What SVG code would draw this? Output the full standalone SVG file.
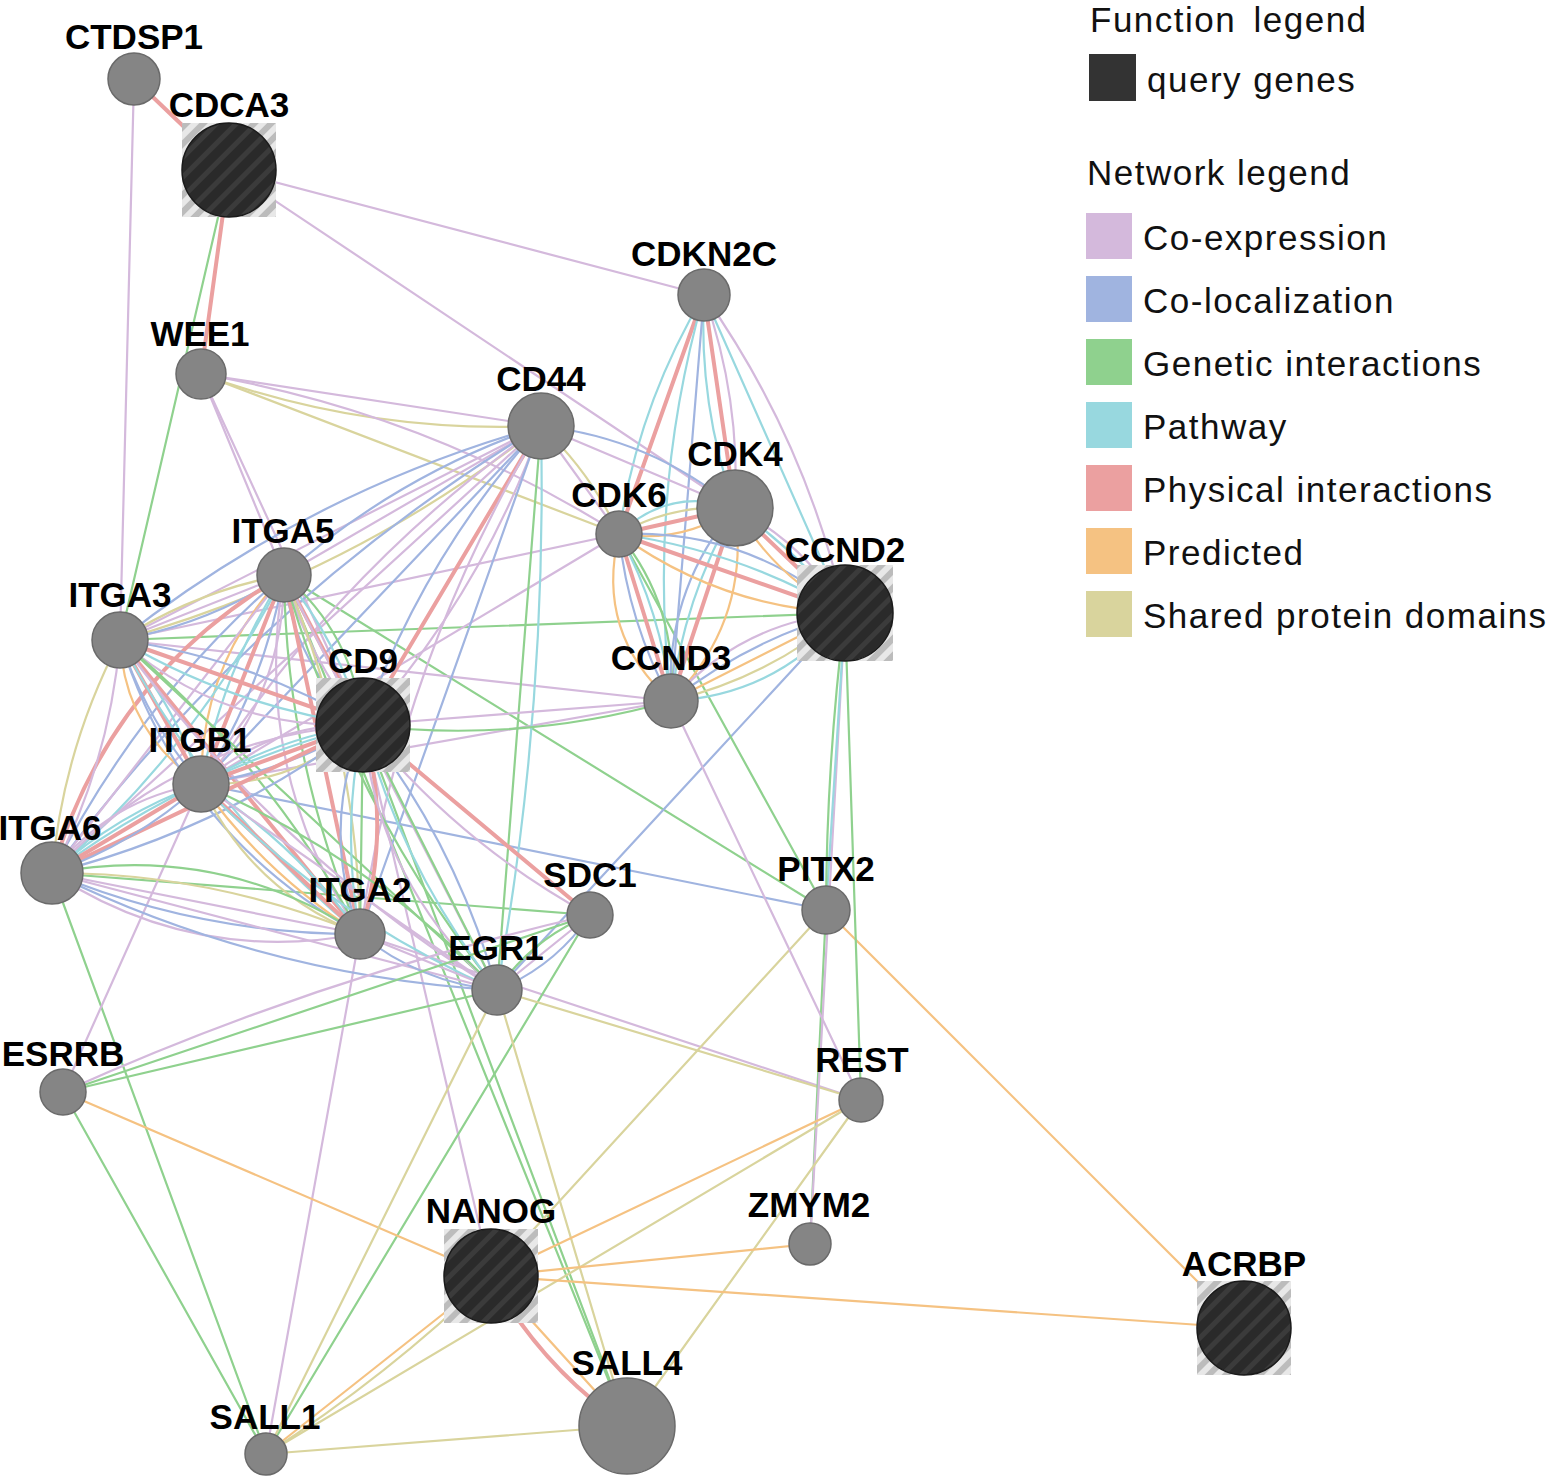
<svg xmlns="http://www.w3.org/2000/svg" width="1558" height="1478" viewBox="0 0 1558 1478">
<defs>
<pattern id="dk" width="14" height="14" patternUnits="userSpaceOnUse" patternTransform="rotate(45)"><rect width="14" height="14" fill="#2a2a2a"/><rect width="5" height="14" fill="#3b3b3b"/></pattern>
<pattern id="lg" width="12" height="12" patternUnits="userSpaceOnUse" patternTransform="rotate(45)"><rect width="12" height="12" fill="#e8e8e8"/><rect width="6" height="12" fill="#bcbcbc"/></pattern>
<style>
.e{fill:none;stroke-width:2.2;stroke-linecap:round}
.P{stroke:#d4b9dc}.L{stroke:#a0b4e0}.G{stroke:#8fd18e}.W{stroke:#98d8df}.X{stroke:#eba0a0;stroke-width:4}.R{stroke:#f5c282}.S{stroke:#d9d49d}
.n{fill:#858585;stroke:#6a6a6a;stroke-width:1.5}
.q{fill:url(#dk);stroke:#1a1a1a;stroke-width:1.5}
.qb{fill:url(#lg)}
.lb{font-family:"Liberation Sans",Arial,sans-serif;font-weight:bold;font-size:35px;text-anchor:middle;fill:#000}
.lt{font-family:"Liberation Sans",Arial,sans-serif;font-size:35px;fill:#111;letter-spacing:1.5px}
</style>
</defs>
<rect width="1558" height="1478" fill="#fff"/>
<g id="edges">
<path class="e X" stroke-width="7" d="M134 79 L229 170"/>
<path class="e P" d="M134 79 L120 640"/>
<path class="e G" d="M229 170 L120 640"/>
<path class="e X" d="M229 170 L201 374"/>
<path class="e P" d="M229 170 L704 295"/>
<path class="e P" d="M229 170 L735 508"/>
<path class="e P" d="M201 374 L284 575"/>
<path class="e P" d="M201 374 L363 725"/>
<path class="e G" d="M284 575 L826 910"/>
<path class="e G" d="M284 575 L627 1426"/>
<path class="e G" d="M120 640 L845 613"/>
<path class="e P" d="M120 640 L671 701"/>
<path class="e P" d="M120 640 L619 534"/>
<path class="e P" d="M363 725 L491 1276"/>
<path class="e G" d="M363 725 L627 1426"/>
<path class="e L" d="M201 784 L826 910"/>
<path class="e P" d="M201 784 L671 701"/>
<path class="e P" d="M201 784 L619 534"/>
<path class="e G" d="M52 873 L590 915"/>
<path class="e G" d="M52 873 L266 1454"/>
<path class="e P" d="M360 934 L266 1454"/>
<path class="e P" d="M360 934 L861 1100"/>
<path class="e L" d="M497 990 L845 613"/>
<path class="e G" d="M590 915 L266 1454"/>
<path class="e G" d="M63 1092 L497 990"/>
<path class="e G" d="M63 1092 L266 1454"/>
<path class="e R" stroke-width="3" d="M63 1092 L491 1276"/>
<path class="e P" d="M63 1092 L201 784"/>
<path class="e S" d="M497 990 L861 1100"/>
<path class="e S" d="M497 990 L266 1454"/>
<path class="e S" d="M497 990 L627 1426"/>
<path class="e R" d="M826 910 L1244 1328"/>
<path class="e S" d="M826 910 L491 1276"/>
<path class="e G" d="M826 910 L810 1244"/>
<path class="e P" d="M845 613 L810 1244"/>
<path class="e G" d="M845 613 L861 1100"/>
<path class="e P" d="M671 701 L861 1100"/>
<path class="e G" d="M619 534 L826 910"/>
<path class="e R" stroke-width="3" d="M861 1100 L491 1276"/>
<path class="e S" d="M861 1100 L627 1426"/>
<path class="e S" d="M861 1100 L266 1454"/>
<path class="e R" stroke-width="3" d="M810 1244 L491 1276"/>
<path class="e R" stroke-width="3" d="M491 1276 L1244 1328"/>
<path class="e S" d="M266 1454 L627 1426"/>
<path class="e X" stroke-width="5" d="M704 295 L619 534"/>
<path class="e W" d="M704 295 Q637.6 406 619 534"/>
<path class="e X" stroke-width="3.5" d="M704 295 L735 508"/>
<path class="e W" d="M704 295 Q698.2 404.6 735 508"/>
<path class="e P" d="M704 295 Q740.8 398.4 735 508"/>
<path class="e W" d="M704 295 L845 613"/>
<path class="e P" d="M704 295 Q806.3 439.9 845 613"/>
<path class="e L" d="M704 295 L671 701"/>
<path class="e W" d="M704 295 Q646.9 494.7 671 701"/>
<path class="e P" d="M201 374 L541 426"/>
<path class="e S" d="M201 374 Q365.8 434 541 426"/>
<path class="e S" d="M201 374 L619 534"/>
<path class="e P" d="M201 374 Q426 412.2 619 534"/>
<path class="e P" d="M541 426 L120 640"/>
<path class="e L" d="M541 426 Q309.1 490.9 120 640"/>
<path class="e S" d="M541 426 Q351.9 575.1 120 640"/>
<path class="e P" d="M541 426 L284 575"/>
<path class="e L" d="M541 426 Q397.6 474.8 284 575"/>
<path class="e L" d="M541 426 L201 784"/>
<path class="e P" d="M541 426 Q335.2 571 201 784"/>
<path class="e P" d="M541 426 L52 873"/>
<path class="e L" d="M541 426 Q251.8 600.6 52 873"/>
<path class="e X" d="M541 426 L363 725"/>
<path class="e L" d="M541 426 Q422.1 557.7 363 725"/>
<path class="e P" d="M541 426 Q481.9 593.3 363 725"/>
<path class="e L" d="M541 426 L360 934"/>
<path class="e P" d="M541 426 Q399.7 661.9 360 934"/>
<path class="e G" d="M541 426 L497 990"/>
<path class="e W" d="M541 426 Q547.2 710.2 497 990"/>
<path class="e P" d="M541 426 L735 508"/>
<path class="e L" d="M541 426 Q650.3 437.9 735 508"/>
<path class="e P" d="M284 575 L120 640"/>
<path class="e S" d="M284 575 Q195.5 591.1 120 640"/>
<path class="e L" d="M284 575 Q208.5 623.9 120 640"/>
<path class="e X" d="M284 575 L201 784"/>
<path class="e W" d="M284 575 Q221.6 671.2 201 784"/>
<path class="e L" d="M284 575 Q263.4 687.8 201 784"/>
<path class="e R" stroke-width="3" d="M284 575 Q200.7 662.9 201 784"/>
<path class="e P" d="M284 575 Q284.3 696.1 201 784"/>
<path class="e X" d="M284 575 L363 725"/>
<path class="e P" d="M284 575 Q308.5 657.9 363 725"/>
<path class="e W" d="M284 575 Q338.5 642.1 363 725"/>
<path class="e L" d="M284 575 Q293.5 665.8 363 725"/>
<path class="e G" d="M284 575 Q353.5 634.2 363 725"/>
<path class="e P" d="M284 575 L52 873"/>
<path class="e L" d="M284 575 Q138.2 700.8 52 873"/>
<path class="e W" d="M284 575 Q197.8 747.2 52 873"/>
<path class="e X" stroke-width="3.5" d="M284 575 Q108.4 677.6 52 873"/>
<path class="e X" stroke-width="3.5" d="M284 575 L360 934"/>
<path class="e G" d="M284 575 Q286.1 762.1 360 934"/>
<path class="e S" d="M284 575 Q357.9 746.9 360 934"/>
<path class="e P" d="M284 575 Q250.2 769.7 360 934"/>
<path class="e P" d="M284 575 L497 990"/>
<path class="e G" d="M284 575 Q349 803.8 497 990"/>
<path class="e X" stroke-width="5" d="M120 640 L363 725"/>
<path class="e W" d="M120 640 Q233 706.8 363 725"/>
<path class="e L" d="M120 640 Q250 658.2 363 725"/>
<path class="e P" d="M120 640 Q224.5 731.1 363 725"/>
<path class="e X" d="M120 640 L201 784"/>
<path class="e R" stroke-width="5" d="M120 640 Q124.5 732.3 201 784"/>
<path class="e W" d="M120 640 Q174.9 703.9 201 784"/>
<path class="e L" d="M120 640 Q146.1 720.1 201 784"/>
<path class="e S" d="M120 640 Q62.7 749.7 52 873"/>
<path class="e P" d="M120 640 Q109.3 763.3 52 873"/>
<path class="e X" stroke-width="3.5" d="M120 640 L360 934"/>
<path class="e W" d="M120 640 Q210.6 811 360 934"/>
<path class="e G" d="M120 640 Q269.4 763 360 934"/>
<path class="e L" d="M120 640 Q181.2 835 360 934"/>
<path class="e G" d="M120 640 L497 990"/>
<path class="e P" d="M120 640 Q273.5 852.7 497 990"/>
<path class="e X" d="M363 725 L201 784"/>
<path class="e W" d="M363 725 Q276.1 738.3 201 784"/>
<path class="e L" d="M363 725 Q287.9 770.7 201 784"/>
<path class="e P" d="M363 725 Q270.2 722.1 201 784"/>
<path class="e S" d="M363 725 Q293.8 786.9 201 784"/>
<path class="e X" d="M363 725 L52 873"/>
<path class="e W" d="M363 725 Q192.7 767.9 52 873"/>
<path class="e L" d="M363 725 Q222.3 830.1 52 873"/>
<path class="e P" d="M363 725 Q177.9 736.8 52 873"/>
<path class="e X" d="M363 725 Q392.9 830 360 934"/>
<path class="e G" d="M363 725 L360 934"/>
<path class="e W" d="M363 725 Q340.6 829.2 360 934"/>
<path class="e L" d="M363 725 Q319.7 828.9 360 934"/>
<path class="e G" d="M363 725 L497 990"/>
<path class="e W" d="M363 725 Q403.5 870.9 497 990"/>
<path class="e L" d="M363 725 Q456.5 844.1 497 990"/>
<path class="e P" d="M363 725 Q377 884.3 497 990"/>
<path class="e X" d="M363 725 L590 915"/>
<path class="e P" d="M363 725 Q457.5 842.7 590 915"/>
<path class="e P" d="M363 725 L671 701"/>
<path class="e G" d="M363 725 Q519.4 743.8 671 701"/>
<path class="e X" d="M201 784 L52 873"/>
<path class="e W" d="M201 784 Q117.6 813.6 52 873"/>
<path class="e L" d="M201 784 Q135.4 843.4 52 873"/>
<path class="e P" d="M201 784 Q108.7 798.7 52 873"/>
<path class="e X" stroke-width="5" d="M201 784 L360 934"/>
<path class="e R" stroke-width="3" d="M201 784 Q265.5 874.9 360 934"/>
<path class="e W" d="M201 784 Q295.5 843.1 360 934"/>
<path class="e S" d="M201 784 Q250.5 890.8 360 934"/>
<path class="e P" d="M201 784 L497 990"/>
<path class="e W" d="M201 784 Q328.4 916.6 497 990"/>
<path class="e G" d="M201 784 Q369.6 857.4 497 990"/>
<path class="e P" d="M52 873 L360 934"/>
<path class="e L" d="M52 873 Q199.9 934.3 360 934"/>
<path class="e S" d="M52 873 Q212.1 872.7 360 934"/>
<path class="e G" d="M52 873 Q218.2 841.9 360 934"/>
<path class="e P" d="M52 873 Q193.8 965.1 360 934"/>
<path class="e P" d="M52 873 L497 990"/>
<path class="e L" d="M52 873 Q262.8 976 497 990"/>
<path class="e P" d="M360 934 L497 990"/>
<path class="e L" d="M360 934 Q420.1 982.6 497 990"/>
<path class="e P" d="M590 915 L497 990"/>
<path class="e G" d="M590 915 Q532.2 938.5 497 990"/>
<path class="e L" d="M590 915 Q554.8 966.5 497 990"/>
<path class="e G" d="M63 1092 L590 915"/>
<path class="e P" d="M63 1092 Q317.7 977.2 590 915"/>
<path class="e W" d="M826 910 L845 613"/>
<path class="e G" d="M826 910 Q826.6 762.1 845 613"/>
<path class="e R" d="M491 1276 L627 1426"/>
<path class="e X" stroke-width="5" d="M491 1276 Q541 1367.3 627 1426"/>
<path class="e R" stroke-width="3" d="M491 1276 L266 1454"/>
<path class="e S" d="M491 1276 Q387.4 1376.3 266 1454"/>
<path class="e X" stroke-width="5" d="M671 701 L619 534"/>
<path class="e R" d="M671 701 Q594.9 633.1 619 534"/>
<path class="e W" d="M671 701 Q661.7 612.3 619 534"/>
<path class="e G" d="M671 701 Q678.4 607.1 619 534"/>
<path class="e L" d="M671 701 Q628.3 622.7 619 534"/>
<path class="e X" stroke-width="5" d="M671 701 L735 508"/>
<path class="e R" d="M671 701 Q751.3 620.5 735 508"/>
<path class="e W" d="M671 701 Q683.7 598.1 735 508"/>
<path class="e L" d="M671 701 Q664.4 591.7 735 508"/>
<path class="e R" stroke-width="3" d="M671 701 L845 613"/>
<path class="e S" d="M671 701 Q768.6 677.9 845 613"/>
<path class="e L" d="M671 701 Q749.2 639.6 845 613"/>
<path class="e W" d="M671 701 Q777.4 695.3 845 613"/>
<path class="e P" d="M671 701 Q740.4 622.2 845 613"/>
<path class="e X" stroke-width="3.5" d="M619 534 L735 508"/>
<path class="e W" d="M619 534 Q669.2 486.2 735 508"/>
<path class="e S" d="M619 534 Q673.1 503.6 735 508"/>
<path class="e R" d="M619 534 Q682.2 544.2 735 508"/>
<path class="e X" d="M619 534 L845 613"/>
<path class="e R" d="M619 534 Q720.1 607.4 845 613"/>
<path class="e W" d="M619 534 Q739.9 550.9 845 613"/>
<path class="e L" d="M619 534 Q747.8 528.3 845 613"/>
<path class="e X" stroke-width="5" d="M735 508 L845 613"/>
<path class="e P" d="M735 508 Q805.8 544 845 613"/>
<path class="e W" d="M735 508 Q798.4 551.7 845 613"/>
<path class="e R" d="M735 508 Q774.3 577 845 613"/>
<path class="e P" d="M619 534 L541 426"/>
<path class="e S" d="M619 534 Q590.8 472.2 541 426"/>
</g>
<g id="node-CTDSP1"><circle class="n" cx="134" cy="79" r="26"/><text class="lb" x="134" y="49">CTDSP1</text></g>
<g id="node-CDCA3"><rect class="qb" x="182" y="123" width="94" height="94"/><circle class="q" cx="229" cy="170" r="47"/><text class="lb" x="229" y="117">CDCA3</text></g>
<g id="node-CDKN2C"><circle class="n" cx="704" cy="295" r="26"/><text class="lb" x="704" y="266">CDKN2C</text></g>
<g id="node-WEE1"><circle class="n" cx="201" cy="374" r="25"/><text class="lb" x="200" y="346">WEE1</text></g>
<g id="node-CD44"><circle class="n" cx="541" cy="426" r="33"/><text class="lb" x="541" y="391">CD44</text></g>
<g id="node-CDK4"><circle class="n" cx="735" cy="508" r="38"/><text class="lb" x="735" y="466">CDK4</text></g>
<g id="node-CDK6"><circle class="n" cx="619" cy="534" r="23"/><text class="lb" x="619" y="507">CDK6</text></g>
<g id="node-CCND2"><rect class="qb" x="797" y="565" width="96" height="96"/><circle class="q" cx="845" cy="613" r="48"/><text class="lb" x="845" y="562">CCND2</text></g>
<g id="node-ITGA5"><circle class="n" cx="284" cy="575" r="27"/><text class="lb" x="283" y="543">ITGA5</text></g>
<g id="node-ITGA3"><circle class="n" cx="120" cy="640" r="28"/><text class="lb" x="120" y="607">ITGA3</text></g>
<g id="node-CD9"><rect class="qb" x="316" y="678" width="94" height="94"/><circle class="q" cx="363" cy="725" r="47"/><text class="lb" x="363" y="673">CD9</text></g>
<g id="node-CCND3"><circle class="n" cx="671" cy="701" r="27"/><text class="lb" x="671" y="670">CCND3</text></g>
<g id="node-ITGB1"><circle class="n" cx="201" cy="784" r="28"/><text class="lb" x="200" y="752">ITGB1</text></g>
<g id="node-ITGA6"><circle class="n" cx="52" cy="873" r="31"/><text class="lb" x="50" y="840">ITGA6</text></g>
<g id="node-ITGA2"><circle class="n" cx="360" cy="934" r="25"/><text class="lb" x="360" y="902">ITGA2</text></g>
<g id="node-SDC1"><circle class="n" cx="590" cy="915" r="23"/><text class="lb" x="590" y="887">SDC1</text></g>
<g id="node-PITX2"><circle class="n" cx="826" cy="910" r="24"/><text class="lb" x="826" y="881">PITX2</text></g>
<g id="node-EGR1"><circle class="n" cx="497" cy="990" r="25"/><text class="lb" x="496" y="960">EGR1</text></g>
<g id="node-ESRRB"><circle class="n" cx="63" cy="1092" r="23"/><text class="lb" x="63" y="1066">ESRRB</text></g>
<g id="node-REST"><circle class="n" cx="861" cy="1100" r="22"/><text class="lb" x="862" y="1072">REST</text></g>
<g id="node-ZMYM2"><circle class="n" cx="810" cy="1244" r="21"/><text class="lb" x="809" y="1217">ZMYM2</text></g>
<g id="node-NANOG"><rect class="qb" x="444" y="1229" width="94" height="94"/><circle class="q" cx="491" cy="1276" r="47"/><text class="lb" x="491" y="1223">NANOG</text></g>
<g id="node-ACRBP"><rect class="qb" x="1197" y="1281" width="94" height="94"/><circle class="q" cx="1244" cy="1328" r="47"/><text class="lb" x="1244" y="1276">ACRBP</text></g>
<g id="node-SALL4"><circle class="n" cx="627" cy="1426" r="48"/><text class="lb" x="627" y="1375">SALL4</text></g>
<g id="node-SALL1"><circle class="n" cx="266" cy="1454" r="21"/><text class="lb" x="265" y="1429">SALL1</text></g>
<g id="legend">
<text class="lt" x="1090" y="32" word-spacing="6">Function legend</text>
<rect x="1089" y="54" width="47" height="47" fill="#333"/>
<text class="lt" x="1147" y="92">query genes</text>
<text class="lt" x="1087" y="185">Network legend</text>
<rect x="1086" y="213" width="46" height="46" fill="#d4b9dc"/><text class="lt" x="1143" y="250">Co-expression</text>
<rect x="1086" y="276" width="46" height="46" fill="#a0b4e0"/><text class="lt" x="1143" y="313">Co-localization</text>
<rect x="1086" y="339" width="46" height="46" fill="#8fd18e"/><text class="lt" x="1143" y="376">Genetic interactions</text>
<rect x="1086" y="402" width="46" height="46" fill="#98d8df"/><text class="lt" x="1143" y="439">Pathway</text>
<rect x="1086" y="465" width="46" height="46" fill="#eba0a0"/><text class="lt" x="1143" y="502">Physical interactions</text>
<rect x="1086" y="528" width="46" height="46" fill="#f5c282"/><text class="lt" x="1143" y="565">Predicted</text>
<rect x="1086" y="591" width="46" height="46" fill="#d9d49d"/><text class="lt" x="1143" y="628">Shared protein domains</text>
</g>
</svg>
